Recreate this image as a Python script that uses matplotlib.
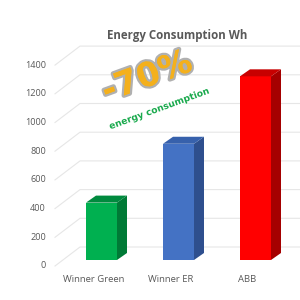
import numpy as np
import matplotlib
matplotlib.use('Agg')
import matplotlib.pyplot as plt
from matplotlib.patches import Polygon
import matplotlib.patheffects as pe

# data
categories = ['Winner Green', 'Winner ER', 'ABB']
values = [400, 810, 1280]
ticks = [0, 200, 400, 600, 800, 1000, 1200, 1400]

front_c = ['#00B050', '#4472C4', '#FF0000']
side_c = ['#007A36', '#2E4F8E', '#A50000']
top_c = ['#008A3E', '#3761AC', '#C80000']

# pixel geometry (fig is 300x300 px)
px_per_cat = 77.0
px_per_wh = 28.7 / 200.0
x0_px, y0_px = 101.5, 40.0   # bar plane origin, pixels from left/bottom

def ux(p):   # pixel -> category units
    return p / px_per_cat

def uy(p):   # pixel -> Wh units
    return p / px_per_wh

fig = plt.figure(figsize=(3, 3), dpi=100)
ax = fig.add_axes([0, 0, 1, 1])
ax.set_xlim(-ux(x0_px), ux(300 - x0_px))
ax.set_ylim(-uy(y0_px), uy(300 - y0_px))
ax.axis('off')

# back wall grid with perspective floor-side segment
for v in ticks:
    xs = [ux(55 - x0_px), ux(80 - x0_px), ux(300 - x0_px)]
    ys = [v - uy(6), v + uy(13), v + uy(13)]
    ax.plot(xs, ys, color='#E6E6E6', lw=0.8, zorder=1)
    ax.text(ux(46 - x0_px), v - uy(6), str(v), ha='right', va='center',
            fontsize=6.6, color='#595959', family='Open Sans')

# 3d bars
w = ux(31)
dx, dy = ux(10), uy(7)
for i, v in enumerate(values):
    l, r = i - w / 2, i + w / 2
    ax.add_patch(Polygon([(l, 0), (r, 0), (r, v), (l, v)], closed=True,
                         fc=front_c[i], ec='none', zorder=3))
    ax.add_patch(Polygon([(r, 0), (r + dx, dy), (r + dx, v + dy), (r, v)],
                         closed=True, fc=side_c[i], ec='none', zorder=3))
    ax.add_patch(Polygon([(l, v), (r, v), (r + dx, v + dy), (l + dx, v + dy)],
                         closed=True, fc=top_c[i], ec='none', zorder=3))
    ax.text(i - ux(8), -uy(20), categories[i], ha='center', va='center',
            fontsize=6.8, color='#595959', family='Open Sans')

ax.text(ux(177 - x0_px), uy(265 - y0_px), 'Energy Consumption Wh',
        ha='center', va='center', fontsize=8.3, fontweight='bold',
        color='#595959', family='Open Sans')

# badge
ax.text(ux(147 - x0_px), uy(223 - y0_px), '-70%', ha='center', va='center',
        fontsize=24, fontweight='heavy', color='#F4B01C', rotation=20,
        family='DejaVu Sans',
        path_effects=[pe.withStroke(linewidth=2.4, foreground='#F8F8F0'),
                      pe.withStroke(linewidth=3.4, foreground='#B0B0B0'),
                      pe.Normal()])
ax.text(ux(159 - x0_px), uy(191 - y0_px), 'energy consumption', ha='center',
        va='center', fontsize=6.6, fontweight='bold', color='#1BAA4E',
        rotation=20, family='DejaVu Sans',
        path_effects=[pe.withStroke(linewidth=1.2, foreground='white')])

fig.savefig('out.png', dpi=100)
